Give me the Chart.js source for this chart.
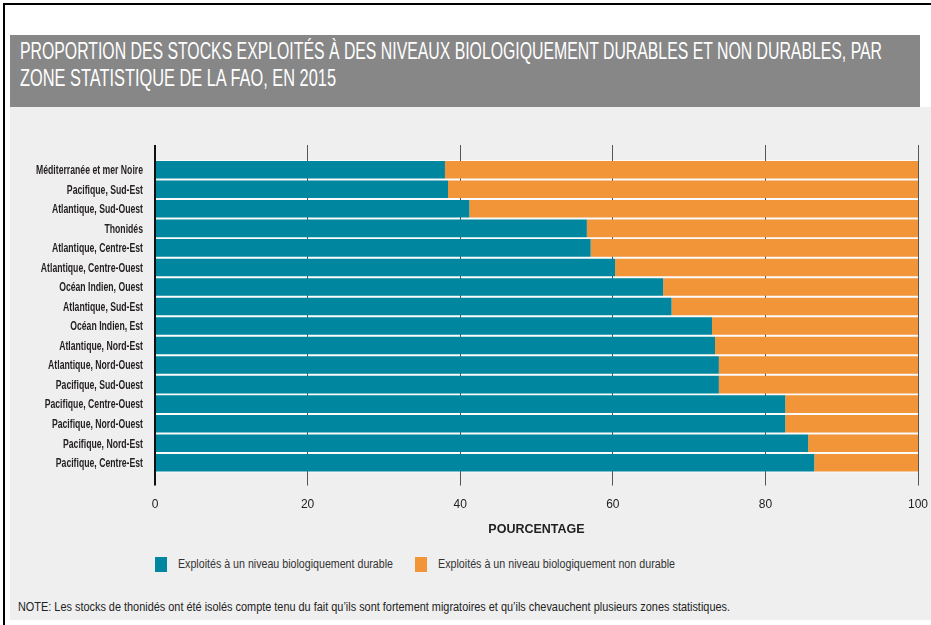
<!DOCTYPE html>
<html>
<head>
<meta charset="utf-8">
<script src="https://cdn.jsdelivr.net/npm/chart.js@4"></script>
<style>
  html, body { margin: 0; padding: 0; background: #fff; }
  body { width: 931px; height: 625px; position: relative; overflow: hidden;
         font-family: "Liberation Sans", "DejaVu Sans", sans-serif; }
  #frame { position: absolute; left: 3px; top: 3px; width: 940px; height: 640px;
           border-top: 2px solid #000; border-left: 2px solid #000; }
  #panel { position: absolute; left: 10px; top: 107px; width: 921px; height: 513px; background: #efefef; }
  #title { position: absolute; left: 10px; top: 35px; width: 910px; height: 72px; background: #878787;
           color: #fff; font-size: 24px; line-height: 24px; }
  #title div { position: absolute; left: 10px; white-space: nowrap; transform-origin: left top; }
  #chartBox { position: absolute; left: 10px; top: 107px; width: 921px; height: 435px; }
  #legend { position: absolute; left: 155px; top: 557px; font-size: 12px; color: #333; }
  #legend i { position: absolute; top: 0; width: 12px; height: 15px; }
  #legend span { position: absolute; top: 0; line-height: 15px; white-space: nowrap; transform-origin: left top; }
  #note { position: absolute; left: 18px; top: 600px; font-size: 12px; color: #222; white-space: nowrap; transform-origin: left top; }
</style>
</head>
<body>
<div id="frame"></div>
<div id="panel"></div>
<div id="title">
  <div id="t1" style="top:4px">PROPORTION DES STOCKS EXPLOITÉS À DES NIVEAUX BIOLOGIQUEMENT DURABLES ET NON DURABLES, PAR</div>
  <div id="t2" style="top:31px">ZONE STATISTIQUE DE LA FAO, EN 2015</div>
</div>
<div id="chartBox"><canvas id="myChart" width="921" height="435"></canvas></div>
<div id="legend"></div>
<div id="note">NOTE: Les stocks de thonidés ont été isolés compte tenu du fait qu’ils sont fortement migratoires et qu’ils chevauchent plusieurs zones statistiques.</div>
<script>
const zones = [
  'Méditerranée et mer Noire', 'Pacifique, Sud-Est', 'Atlantique, Sud-Ouest', 'Thonidés',
  'Atlantique, Centre-Est', 'Atlantique, Centre-Ouest', 'Océan Indien, Ouest', 'Atlantique, Sud-Est',
  'Océan Indien, Est', 'Atlantique, Nord-Est', 'Atlantique, Nord-Ouest', 'Pacifique, Sud-Ouest',
  'Pacifique, Centre-Ouest', 'Pacifique, Nord-Ouest', 'Pacifique, Nord-Est', 'Pacifique, Centre-Est'
];
const durable = [38.0, 38.4, 41.2, 56.6, 57.1, 60.3, 66.6, 67.7, 73.0, 73.4, 73.9, 73.9, 82.6, 82.6, 85.6, 86.4];
const nonDurable = [62.0, 61.6, 58.8, 43.4, 42.9, 39.7, 33.4, 32.3, 27.0, 26.6, 26.1, 26.1, 17.4, 17.4, 14.4, 13.6];
const seriesNames = ['Exploités à un niveau biologiquement durable', 'Exploités à un niveau biologiquement non durable'];
const xTicks = [0, 20, 40, 60, 80, 100];

const FONT = '"Liberation Sans", "DejaVu Sans", sans-serif';
Chart.defaults.font.family = FONT;
Chart.defaults.color = '#222';

// squeeze html text to the width it has in the original
function fit(el, w) {
  if (typeof el === 'string') el = document.getElementById(el);
  const r = el.getBoundingClientRect().width;
  el.style.transform = 'scaleX(' + (w / r) + ')';
}
fit('t1', 862);
fit('t2', 316);
fit('note', 712);

// light strip behind the bars, shows through the gaps
const gapFill = {
  id: 'gapFill',
  beforeDraw(chart) {
    const a = chart.chartArea, c = chart.ctx;
    c.save();
    c.fillStyle = '#fbfbfb';
    c.fillRect(a.left, a.top, a.right - a.left, a.bottom - a.top);
    c.restore();
  }
};

// category labels, drawn narrow like the condensed face of the original
const narrowLabels = {
  id: 'narrowLabels',
  afterDraw(chart) {
    const y = chart.scales.y, c = chart.ctx;
    c.save();
    c.font = 'bold 12px ' + FONT;
    c.fillStyle = '#231f20';
    c.textAlign = 'right';
    c.textBaseline = 'middle';
    const sx = 107 / c.measureText(zones[0]).width;
    y.ticks.forEach((t, i) => {
      c.save();
      c.translate(y.right - 12, y.getPixelForTick(i) + 1);
      c.scale(sx, 1);
      c.fillText(y.getLabelForValue(t.value), 0, 0);
      c.restore();
    });
    c.restore();
  }
};

const gridColor = (ctx) => ctx.tick && ctx.tick.value === 0 ? '#111' : '#555';
const gridWidth = (ctx) => ctx.tick && ctx.tick.value === 0 ? 2 : 1;
const noSidePad = (s) => { s.paddingLeft = 0; s.paddingRight = 0; };

const ctx = document.getElementById('myChart').getContext('2d');
const myChart = new Chart(ctx, {
  type: 'bar',
  data: {
    labels: zones,
    datasets: [{
      label: seriesNames[0],
      data: durable,
      backgroundColor: '#00869f',
      barPercentage: 0.9,
      categoryPercentage: 1
    }, {
      label: seriesNames[1],
      data: nonDurable,
      backgroundColor: '#f29538',
      barPercentage: 0.9,
      categoryPercentage: 1
    }]
  },
  options: {
    indexAxis: 'y',
    responsive: false,
    animation: false,
    maintainAspectRatio: false,
    layout: { padding: { top: 38, right: 13, left: 0, bottom: 0 } },
    scales: {
      x: {
        type: 'linear', stacked: true, min: 0, max: 100,
        afterBuildTicks: (s) => { s.ticks = xTicks.map(v => ({ value: v })); },
        afterFit: noSidePad,
        grid: { color: gridColor, lineWidth: gridWidth, tickLength: 13, drawOnChartArea: true },
        border: { display: false },
        ticks: { padding: 13, font: { size: 12, lineHeight: 1 }, color: '#222' },
        title: { display: true, text: 'POURCENTAGE', font: { size: 12.5, weight: 'bold', lineHeight: 1 }, color: '#222', padding: { top: 0, bottom: 6 } }
      },
      x2: {
        type: 'linear', position: 'top', min: 0, max: 100,
        afterBuildTicks: (s) => { s.ticks = xTicks.map(v => ({ value: v })); },
        afterFit: noSidePad,
        grid: { color: gridColor, lineWidth: gridWidth, tickLength: 15, drawOnChartArea: false },
        border: { display: false },
        ticks: { display: false }
      },
      y: {
        stacked: true,
        afterFit: (s) => { s.width = 145; },
        grid: { display: false, drawTicks: false },
        border: { display: false },
        ticks: { display: false, autoSkip: false }
      }
    },
    plugins: {
      legend: { display: false },
      tooltip: { enabled: false }
    }
  },
  plugins: [gapFill, narrowLabels]
});

// legend built from the chart's datasets
const lg = document.getElementById('legend');
const boxX = [0, 260];
const textW = [215, 237];
myChart.data.datasets.forEach((d, i) => {
  const b = document.createElement('i');
  b.style.left = boxX[i] + 'px';
  b.style.background = d.backgroundColor;
  lg.appendChild(b);
  const s = document.createElement('span');
  s.style.left = (boxX[i] + 23) + 'px';
  s.textContent = d.label;
  lg.appendChild(s);
  fit(s, textW[i]);
});
</script>
</body>
</html>
